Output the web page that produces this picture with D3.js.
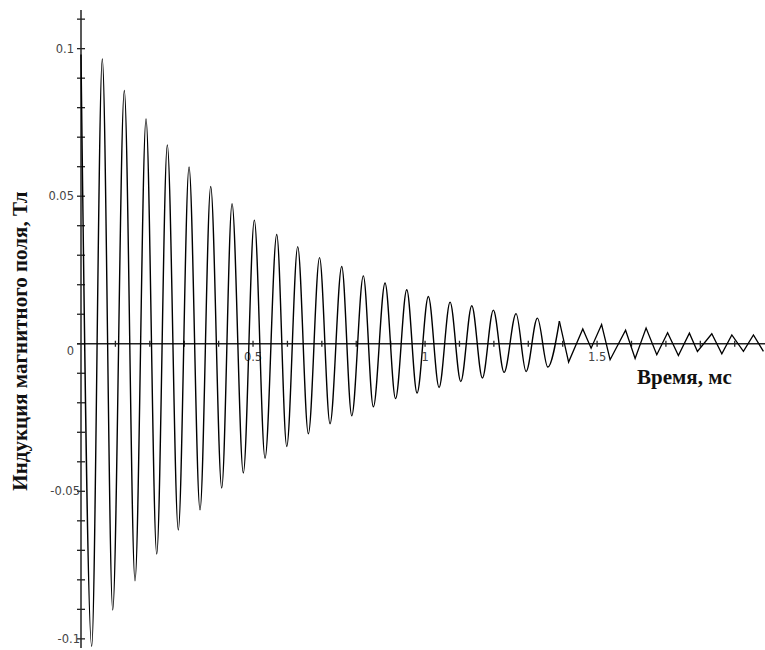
<!DOCTYPE html>
<html lang="ru">
<head>
  <meta charset="UTF-8">
  <title>Индукция магнитного поля</title>
  <script src="https://d3js.org/d3.v7.min.js"></script>
  <style>
    body {
      margin: 0;
      background: #fff;
    }
    .tick-label {
      font-family: "DejaVu Sans", sans-serif;
      font-size: 11.5px;
      fill: #444;
    }
    .axis-title {
      font-family: "Liberation Serif", "Times New Roman", serif;
      font-weight: bold;
      font-size: 21px;
      fill: #111;
    }
  </style>
</head>
<body>
  <svg id="chart" width="765" height="650"></svg>

  <script>
    // extrema of the signal (time in ms, induction in T)
    const times = [
      0, 0.0311, 0.0619, 0.0922, 0.1259, 0.1570, 0.1890, 0.2201, 0.2509, 0.2828,
      0.3140, 0.3459, 0.3770, 0.4090, 0.4390, 0.4718, 0.5038, 0.5349, 0.5689, 0.5980,
      0.6299, 0.6608, 0.6933, 0.7238, 0.7578, 0.7869, 0.8206, 0.8497, 0.8837, 0.9142,
      0.9468, 0.9767, 1.0096, 1.0407, 1.0727, 1.1038, 1.1358, 1.1666, 1.1985, 1.2297,
      1.2645, 1.2936, 1.3265, 1.3567, 1.3904, 1.4172, 1.4584, 1.4826, 1.5131, 1.5378,
      1.5828, 1.6105, 1.6424, 1.6735, 1.7049, 1.7363, 1.7683, 1.7916, 1.8334, 1.8625,
      1.8916, 1.9253, 1.9544, 1.9834
    ];
    const induction = [
      0.0980, -0.1025, 0.0965, -0.0902, 0.0858, -0.0803, 0.0762, -0.0713, 0.0674, -0.0631,
      0.0599, -0.0563, 0.0533, -0.0489, 0.0475, -0.0438, 0.0419, -0.0388, 0.0370, -0.0348,
      0.0329, -0.0305, 0.0292, -0.0271, 0.0262, -0.0244, 0.0230, -0.0214, 0.0206, -0.0186,
      0.0183, -0.0167, 0.0160, -0.0148, 0.0141, -0.0128, 0.0129, -0.0116, 0.0114, -0.0097,
      0.0102, -0.0094, 0.0087, -0.0079, 0.0077, -0.0062, 0.0050, -0.0015, 0.0065, -0.0054,
      0.0046, -0.0050, 0.0053, -0.0037, 0.0037, -0.0040, 0.0036, -0.0026, 0.0034, -0.0034,
      0.0030, -0.0026, 0.0030, -0.0026
    ];
    const smoothEnd = 44; // after this index the plot turns into straight zig-zags

    const yLabelValues = [0.1, 0.05, 0, -0.05, -0.1];
    const xLabelValues = [0.5, 1, 1.5];
    const xTitle = "Время, мс";
    const yTitle = "Индукция магнитного поля, Тл";

    const svg = d3.select("#chart");

    const x = d3.scaleLinear().domain([0, 1.988]).range([81, 765]);
    const y = d3.scaleLinear().domain([-0.1031, 0.1131]).range([648, 10]);

    const data = times.map((t, i) => ({ t: t, b: induction[i] }));

    // axes lines
    svg.append("line")
      .attr("x1", x(0)).attr("x2", x(0))
      .attr("y1", y(0.1131)).attr("y2", y(-0.1031))
      .attr("stroke", "#222").attr("stroke-width", 1.5);
    svg.append("line")
      .attr("x1", x(0) - 4).attr("x2", 765)
      .attr("y1", y(0)).attr("y2", y(0))
      .attr("stroke", "#222").attr("stroke-width", 1.5);

    // y ticks every 0.01
    const yTicks = d3.range(-10, 12).map(k => k / 100);
    svg.selectAll(".ytick")
      .data(yTicks)
      .enter()
      .append("line")
      .attr("class", "ytick")
      .attr("x1", x(0) - 4).attr("x2", x(0) + 4)
      .attr("y1", d => y(d)).attr("y2", d => y(d))
      .attr("stroke", "#222").attr("stroke-width", 1.3);

    // x ticks every 0.1 ms
    const xTicks = d3.range(1, 20).map(k => k / 10);
    svg.selectAll(".xtick")
      .data(xTicks)
      .enter()
      .append("line")
      .attr("class", "xtick")
      .attr("x1", d => x(d)).attr("x2", d => x(d))
      .attr("y1", y(0) - 3).attr("y2", y(0) + 3)
      .attr("stroke", "#222").attr("stroke-width", 1.3);

    svg.selectAll(".ylab")
      .data(yLabelValues)
      .enter()
      .append("text")
      .attr("class", "tick-label")
      .attr("text-anchor", "end")
      .attr("x", d => d < 0 ? x(0) - 1 : x(0) - 7)
      .attr("y", d => d === 0 ? y(d) + 11 : y(d) + 4)
      .text(d => d);

    svg.selectAll(".xlab")
      .data(xLabelValues)
      .enter()
      .append("text")
      .attr("class", "tick-label")
      .attr("text-anchor", "middle")
      .attr("x", d => x(d))
      .attr("y", y(0) + 17)
      .text(d => d);

    // signal
    const smoothLine = d3.line()
      .x(d => x(d.t))
      .y(d => y(d.b))
      .curve(d3.curveMonotoneX);
    const sharpLine = d3.line()
      .x(d => x(d.t))
      .y(d => y(d.b));

    svg.append("path")
      .attr("d", smoothLine(data.slice(0, smoothEnd + 1)))
      .attr("fill", "none")
      .attr("stroke", "#000")
      .attr("stroke-width", 1.4);
    svg.append("path")
      .attr("d", sharpLine(data.slice(smoothEnd)))
      .attr("fill", "none")
      .attr("stroke", "#000")
      .attr("stroke-width", 1.3);

    // titles
    svg.append("text")
      .attr("class", "axis-title")
      .attr("x", 637)
      .attr("y", 384)
      .text(xTitle);

    svg.append("text")
      .attr("class", "axis-title")
      .attr("text-anchor", "middle")
      .attr("transform", "translate(27,341) rotate(-90)")
      .text(yTitle);
  </script>
</body>
</html>
